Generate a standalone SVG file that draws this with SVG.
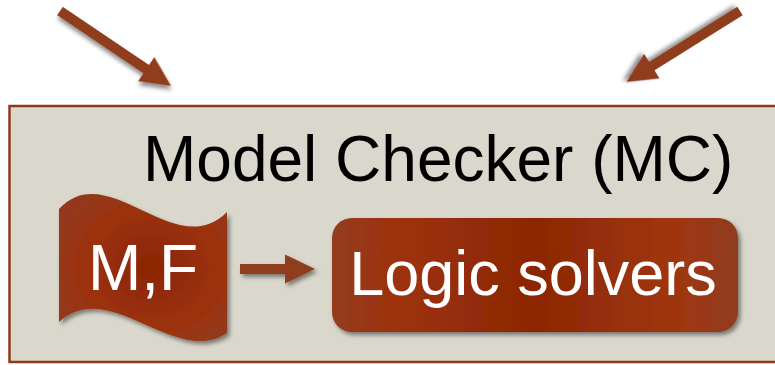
<svg xmlns="http://www.w3.org/2000/svg" width="775" height="365" viewBox="0 0 775 365">
  <defs>
    <style>
      .label { font-family: "Liberation Sans", Arial, sans-serif; }
      .title { font-size: 64px; fill: #000000; }
      .white { fill: #ffffff; }
      .arrow { fill: #8F3C1F; filter: url(#shadow); }
    </style>
    <filter id="shadow" x="-20%" y="-20%" width="150%" height="150%">
      <feDropShadow dx="2.5" dy="3" stdDeviation="2" flood-color="#000000" flood-opacity="0.45"/>
    </filter>
    <linearGradient id="rust" x1="0" y1="0" x2="1" y2="0">
      <stop offset="0" stop-color="#933C1F"/>
      <stop offset="0.15" stop-color="#9D320D"/>
      <stop offset="0.5" stop-color="#8C2703"/>
      <stop offset="0.85" stop-color="#A0360F"/>
      <stop offset="1" stop-color="#8F3C21"/>
    </linearGradient>
    <radialGradient id="flag-rust" cx="0.55" cy="0.5" r="0.6">
      <stop offset="0" stop-color="#8A2604"/>
      <stop offset="0.7" stop-color="#9C320E"/>
      <stop offset="1" stop-color="#93391C"/>
    </radialGradient>
  </defs>

  <!-- incoming arrows from above -->
  <g id="arrow-left">
    <polygon class="arrow" transform="translate(60,11) rotate(34)"
             points="0,-5 104,-5 104,-14.5 134,0 104,14.5 104,5 0,5"/>
  </g>
  <g id="arrow-right">
    <polygon class="arrow" transform="translate(740,11) rotate(148)"
             points="0,-5 104,-5 104,-14.5 134,0 104,14.5 104,5 0,5"/>
  </g>

  <!-- model checker container -->
  <g id="model-checker">
    <rect x="9.5" y="106" width="790" height="256" fill="#DAD8CC" stroke="#8B3A1E" stroke-width="2.5"/>
    <text class="label title" x="143" y="181">Model Checker (MC)</text>
  </g>

  <!-- input: model and formula -->
  <g id="input-mf">
    <path d="M59,209 C108,156 175,264 227,212 L227,333 C175,368 110,276 59,322 Z"
          fill="url(#flag-rust)" filter="url(#shadow)"/>
    <text class="label white" x="143" y="290" font-size="64" text-anchor="middle">M,F</text>
  </g>

  <!-- logic solvers -->
  <g id="logic-solvers">
    <rect x="332" y="218" width="406" height="114" rx="20" fill="url(#rust)" filter="url(#shadow)"/>
    <text class="label white" x="533" y="295" font-size="63" text-anchor="middle">Logic solvers</text>
  </g>

  <!-- connectors -->
  <g id="connectors">
    <polygon class="arrow" points="240,264 285,264 285,254.5 315,269 285,283.5 285,274 240,274"/>
  </g>
</svg>
